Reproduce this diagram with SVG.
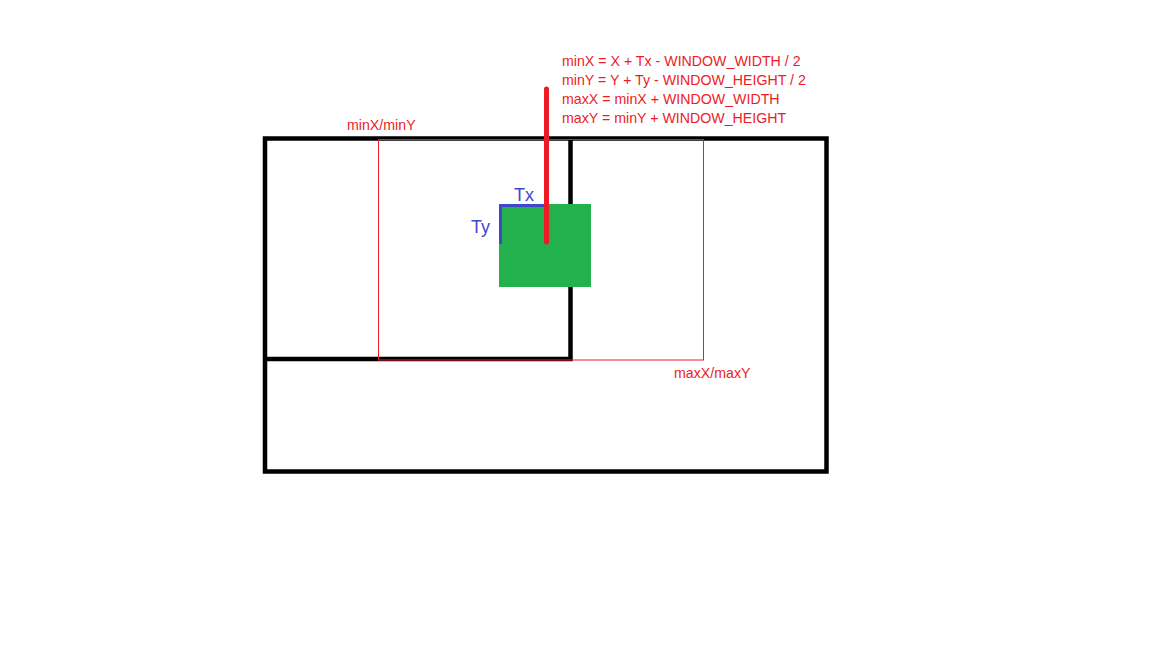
<svg xmlns="http://www.w3.org/2000/svg" width="1152" height="648" viewBox="0 0 1152 648">
<style>
.lbl{font-family:"Liberation Sans",Arial,sans-serif;font-size:14.2px;fill:#ed1c24}
.blue{font-family:"Liberation Sans",Arial,sans-serif;font-size:18px;fill:#3f48cc}
.blk{fill:none;stroke:#000;stroke-width:4.5}
</style>
<rect width="1152" height="648" fill="#fff"/>
<g id="world">
<rect class="blk" x="265" y="138.5" width="561.5" height="333"/>
</g>
<g id="tile">
<path class="blk" d="M265 359 H570.5 V138.5"/>
</g>
<g id="window">
<rect x="378.5" y="139.5" width="325" height="220.5" fill="none" stroke="#ed1c24" stroke-width="1"/>
</g>
<g id="player">
<rect x="499" y="204" width="92" height="83" fill="#22b14c"/>
</g>
<g id="connectors">
<path d="M500.5 244 V205.5 H548" fill="none" stroke="#3f48cc" stroke-width="3"/>
<line x1="546.5" y1="89" x2="546.5" y2="242" stroke="#ed1c24" stroke-width="5" stroke-linecap="round"/>
</g>
<g id="labels">
<text class="blue" x="514" y="201">Tx</text>
<text class="blue" x="471" y="233">Ty</text>
<text class="lbl" x="347" y="130">minX/minY</text>
<text class="lbl" x="674" y="378">maxX/maxY</text>
<text class="lbl" x="562" y="66">minX = X + Tx - WINDOW_WIDTH / 2</text>
<text class="lbl" x="562" y="85">minY = Y + Ty - WINDOW_HEIGHT / 2</text>
<text class="lbl" x="562" y="104">maxX = minX + WINDOW_WIDTH</text>
<text class="lbl" x="562" y="123">maxY = minY + WINDOW_HEIGHT</text>
</g>
</svg>
